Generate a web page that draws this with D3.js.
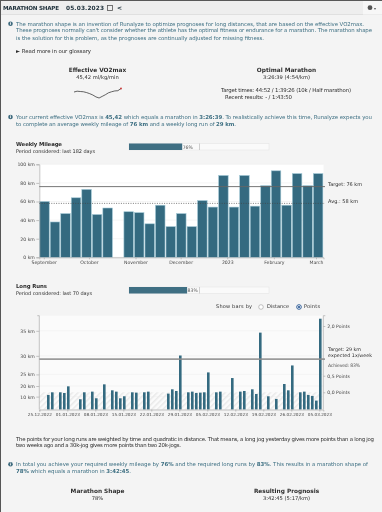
<!DOCTYPE html>
<html>
<head>
<meta charset="utf-8">
<title>Marathon Shape</title>
<script src="https://cdn.jsdelivr.net/npm/d3@7"></script>
<style>
	html, body { margin: 0; padding: 0; background: #f4f4f4; overflow: hidden; }
	svg { display: block; font-family: "DejaVu Sans", sans-serif; filter: blur(0.3px); }
	.axis text { fill: #444; font-size: 4.6px; font-family: "DejaVu Sans", sans-serif; }
	.axis path, .axis line { stroke: #aaa; stroke-width: 0.7; }
</style>
</head>
<body>
<svg id="page" width="382" height="512"></svg>
<script>
// Weekly mileage (km), one value per week, first week starts 29.08.2022
const weeklyKm = [60, 38, 47, 64, 73, 46, 53, 0, 49, 48, 36, 56, 33, 47, 33, 61, 54, 88, 54, 88, 55, 77, 93, 56, 90, 77, 90];
const weeklyTicks = [0, 20, 40, 60, 80, 100];
const monthLabels = ["September", "October", "November", "December", "2023", "February", "March"];
const monthStarts = ["2022-09-01", "2022-10-01", "2022-11-01", "2022-12-01", "2023-01-01", "2023-02-01", "2023-03-01"];
const weeklyTarget = 76;
const weeklyAvg = 58;

// Long runs: day after 25.12.2022 and the points of that run
const runDays = [2, 3, 5, 6, 7, 10, 11, 13, 14, 16, 18, 19, 20, 21, 23, 24, 26, 27, 32, 33, 34, 35, 37, 38, 39, 40, 41, 42, 44, 45, 48, 50, 51, 53, 54, 55, 57, 59, 61, 62, 63, 65, 66, 67, 68, 69, 70];
const runPoints = [-0.08, 0, 0, -0.02, 0.18, -0.21, 0, 0.02, -0.18, 0.24, 0.06, 0.02, -0.18, -0.12, 0, -0.01, 0, 0.02, -0.04, 0.09, 0.04, 1.11, 0, 0.02, -0.02, -0.01, 0, 0.6, 0, 0.02, 0.43, 0.02, 0.04, 0.09, -0.05, 1.8, -0.12, -0.2, 0.25, 0.06, 0.81, 0, 0.02, -0.08, -0.11, -0.25, 2.22];
const runDateLabels = ["25.12.2022", "01.01.2023", "08.01.2023", "15.01.2023", "22.01.2023", "29.01.2023", "05.02.2023", "12.02.2023", "19.02.2023", "26.02.2023", "05.03.2023"];
const kmTicks = [10, 20, 25, 30, 35];
const kmAsPoints = [-0.13, 0.19, 0.54, 1.1, 1.855];
const pointTicks = [0, 0.5, 2];
const runTargetPoints = 1;

// VO2max sparkline
const sparkVo2 = [44.86, 44.99, 44.94, 44.9, 44.77, 44.6, 44.38, 44.08, 43.9, 44.16, 44.42, 44.73, 44.9, 45.03, 45.07, 45.42];

const teal = "#3d6f82";
const dark = "#2e2e2e";
const barFill = "#346a80";
const barEdge = "#a3c9d6";

const svg = d3.select("#page");

/* ------------------------ HELPERS ----------------------- */

// runs = [[text, bold], ...], w = wanted width of the line
function line(x, y, runs, opts = {}){
	let t = svg.append("text")
		.attr("x", x)
		.attr("y", y + 1.9)
		.attr("fill", opts.color || dark)
		.attr("font-size", opts.size || 5.4)
		.attr("text-anchor", opts.anchor || "start");
	if(opts.w) t.attr("textLength", opts.w).attr("lengthAdjust", "spacing");
	if(typeof runs == "string") runs = [[runs, opts.bold]];
	runs.forEach(r => t.append("tspan")
		.attr("font-weight", r[1] ? "bold" : "normal")
		.text(r[0]));
	return t;
}

function infoIcon(x, y){
	svg.append("circle").attr("cx", x).attr("cy", y).attr("r", 2.3).attr("fill", "#3f6b7e");
	svg.append("rect").attr("x", x - 0.4).attr("y", y - 0.9).attr("width", 0.8).attr("height", 2).attr("fill", "#fff");
	svg.append("rect").attr("x", x - 0.4).attr("y", y - 1.7).attr("width", 0.8).attr("height", 0.6).attr("fill", "#fff");
}

function progress(y, h, pct, label){
	let w = d3.scaleLinear().domain([0, 100]).range([0, 70]);
	svg.append("rect").attr("x", 129).attr("y", y).attr("width", 140).attr("height", h)
		.attr("fill", "#fafafa").attr("stroke", "#e2e2e2").attr("stroke-width", 0.5);
	svg.append("rect").attr("x", 129).attr("y", y).attr("width", w(pct)).attr("height", h).attr("fill", "#3f6f83");
	line(129 + w(pct) + 0.5, y + h / 2, label, {size: 4.6, color: "#555"});
	svg.append("line").attr("x1", 199.5).attr("x2", 199.5).attr("y1", y).attr("y2", y + h)
		.attr("stroke", "#bbb").attr("stroke-width", 0.7);
}

/* ------------------------ HEADER ------------------------ */

svg.append("rect").attr("width", 382).attr("height", 14.5).attr("fill", "#eeeeee");
svg.append("rect").attr("y", 14).attr("width", 382).attr("height", 0.7).attr("fill", "#d8d8d8");
svg.append("rect").attr("width", 382).attr("height", 0.8).attr("fill", "#333");
svg.append("rect").attr("width", 1).attr("height", 512).attr("fill", "#555");
line(3, 8, "MARATHON SHAPE", {bold: true, w: 56, size: 5.6, color: "#22343e"});
line(66, 8, "05.03.2023", {bold: true, w: 38, size: 5.8, color: "#22343e"});
svg.append("rect").attr("x", 107.5).attr("y", 5.5).attr("width", 5).attr("height", 5)
	.attr("fill", "none").attr("stroke", "#555").attr("stroke-width", 0.8);
line(117, 8, "<", {bold: true, size: 6, color: "#22343e"});
svg.append("rect").attr("x", 363).attr("y", 1).attr("width", 19).attr("height", 13.5).attr("fill", "#f7f7f7");
svg.append("circle").attr("cx", 370).attr("cy", 7.7).attr("r", 2.4).attr("fill", "#555");
line(374, 8, "▾", {size: 4, color: "#555"});

/* ---------------------- INTRODUCTION -------------------- */

infoIcon(10.5, 23.7);
line(16, 23.7, "The marathon shape is an invention of Runalyze to optimize prognoses for long distances, that are based on the effective VO2max.", {color: teal, w: 348});
line(16, 30.5, "These prognoses normally can't consider whether the athlete has the optimal fitness or endurance for a marathon. The marathon shape", {color: teal, w: 356});
line(16, 37.7, "is the solution for this problem, as the prognoses are continually adjusted for missing fitness.", {color: teal, w: 248});
line(16, 51.2, "► Read more in our glossary", {w: 75});

line(97.5, 70.5, "Effective VO2max", {bold: true, anchor: "middle", size: 5.8});
line(97.5, 77.5, "45,42 ml/kg/min", {anchor: "middle", size: 5.2});
line(286.5, 70.5, "Optimal Marathon", {bold: true, anchor: "middle", size: 5.8});
line(286.5, 77.5, "3:26:39 (4:54/km)", {anchor: "middle", size: 5.2});
line(221, 90, "Target times: 44:52 / 1:39:26 (10k / Half marathon)", {w: 130});
line(225, 97, "Recent results: - / 1:43:50", {w: 67});

const sparkX = d3.scaleLinear().domain([0, sparkVo2.length - 1]).range([74, 121]);
const sparkY = d3.scaleLinear().domain([43.9, 45.42]).range([98, 88.5]);
svg.append("path")
	.attr("d", d3.line().x((d, i) => sparkX(i)).y(d => sparkY(d))(sparkVo2))
	.attr("fill", "none").attr("stroke", "#222").attr("stroke-width", 0.7);
svg.append("circle").attr("cx", sparkX(sparkVo2.length - 1)).attr("cy", sparkY(45.42)).attr("r", 0.9).attr("fill", "#c33");

infoIcon(10.5, 117);
line(16, 117, [["Your current effective VO2max is "], ["45,42", true], [" which equals a marathon in "], ["3:26:39", true], [". To realistically achieve this time, Runalyze expects you"]], {color: teal, w: 356});
line(16, 124, [["to complete an average weekly mileage of "], ["76 km", true], [" and a weekly long run of "], ["29 km", true], ["."]], {color: teal, w: 220});

/* --------------------- WEEKLY MILEAGE ------------------- */

line(16, 144, "Weekly Mileage", {bold: true, size: 5.4, w: 46});
line(16, 151, "Period considered: last 182 days", {size: 5, w: 79});
progress(143.5, 6.5, 76, "76%");

const weekStart = d3.timeMonday.floor(new Date(2022, 7, 29));
const weekDates = weeklyKm.map((d, i) => d3.timeMonday.offset(weekStart, i));
const wx = d3.scaleTime().domain([weekStart, d3.timeMonday.offset(weekStart, weeklyKm.length)]).range([39.3, 323.5]);
const wy = d3.scaleLinear().domain([0, 100]).range([257.3, 164.3]);

svg.append("rect").attr("x", wx.range()[0]).attr("y", wy(100)).attr("width", 284.2).attr("height", wy(0) - wy(100)).attr("fill", "#fff");
svg.append("g").selectAll("line").data(weeklyTicks).enter().append("line")
	.attr("x1", wx.range()[0]).attr("x2", wx.range()[1])
	.attr("y1", d => wy(d)).attr("y2", d => wy(d))
	.attr("stroke", "#f1f1f1").attr("stroke-width", 0.7);

svg.selectAll(".wbar").data(weeklyKm).enter().append("rect")
	.attr("class", "wbar")
	.attr("x", (d, i) => wx(weekDates[i]) + 0.4)
	.attr("y", d => wy(d))
	.attr("width", (d, i) => wx(d3.timeMonday.offset(weekDates[i], 1)) - wx(weekDates[i]) - 1)
	.attr("height", d => wy(0) - wy(d))
	.attr("fill", barFill)
	.attr("stroke", barEdge)
	.attr("stroke-width", 0.6);

const monthDates = monthStarts.map(s => new Date(s + "T00:00:00"));
svg.append("g").attr("class", "axis").attr("transform", "translate(39.3,0)")
	.call(d3.axisLeft(wy).tickValues(weeklyTicks).tickFormat(d => d + " km").tickSize(3).tickPadding(1.5));
svg.append("g").attr("class", "axis").attr("transform", "translate(0,257.3)")
	.call(d3.axisBottom(wx).tickValues(monthDates).tickFormat((d, i) => monthLabels[i]).tickSize(2).tickPadding(1.5));

svg.append("line").attr("x1", 39.3).attr("x2", 325)
	.attr("y1", wy(weeklyTarget)).attr("y2", wy(weeklyTarget))
	.attr("stroke", "#666").attr("stroke-width", 0.9);
svg.append("line").attr("x1", 39.3).attr("x2", 325)
	.attr("y1", wy(weeklyAvg)).attr("y2", wy(weeklyAvg))
	.attr("stroke", "#444").attr("stroke-width", 0.7).attr("stroke-dasharray", "1,1.4");
line(328, 184.5, "Target: " + weeklyTarget + " km", {size: 5, w: 34});
line(328, 201.5, "Avg.: " + weeklyAvg + " km", {size: 5, w: 30});

/* ----------------------- LONG RUNS ---------------------- */

line(16, 286.5, "Long Runs", {bold: true, size: 5.4, w: 31});
line(16, 293.5, "Period considered: last 70 days", {size: 5, w: 76});
progress(287, 6.5, 83, "83%");

line(216, 306.5, "Show bars by", {size: 5, w: 36});
svg.append("circle").attr("cx", 261).attr("cy", 307).attr("r", 2.3).attr("fill", "#fff").attr("stroke", "#888").attr("stroke-width", 0.5);
line(267, 306.5, "Distance", {size: 5, w: 22});
svg.append("circle").attr("cx", 299).attr("cy", 307).attr("r", 2.3).attr("fill", "#fff").attr("stroke", "#1d4f8f").attr("stroke-width", 0.9);
svg.append("circle").attr("cx", 299).attr("cy", 307).attr("r", 1.1).attr("fill", "#1d4f8f");
line(304, 306.5, "Points", {size: 5, w: 16});

const runStart = new Date(2022, 11, 25);
const dayDate = n => d3.timeDay.offset(runStart, n);
const rx = d3.scaleTime().domain([runStart, dayDate(71)]).range([39.3, 323.3]);
const ry = d3.scaleLinear().domain([0, 2]).range([392.3, 326]);
const yBottom = 409.5;
const yTop = 315.7;
const kmScale = d3.scaleLinear().domain(kmTicks).range(kmAsPoints.map(p => ry(p)));

svg.append("rect").attr("x", 39.3).attr("y", yTop).attr("width", 284).attr("height", yBottom - yTop).attr("fill", "#fbfbfb");
svg.append("g").selectAll("line").data(kmTicks).enter().append("line")
	.attr("x1", 39.3).attr("x2", 323.3)
	.attr("y1", d => kmScale(d)).attr("y2", d => kmScale(d))
	.attr("stroke", "#f0f0f0").attr("stroke-width", 0.7);

const hatch = svg.append("defs").append("pattern")
	.attr("id", "hatch").attr("width", 4).attr("height", 4)
	.attr("patternUnits", "userSpaceOnUse").attr("patternTransform", "rotate(45)");
hatch.append("rect").attr("width", 1.5).attr("height", 4).attr("fill", "#e9e9e9");
svg.append("rect").attr("x", 39.3).attr("y", ry(0)).attr("width", 281).attr("height", yBottom - ry(0)).attr("fill", "url(#hatch)");

svg.selectAll(".rbar").data(runPoints).enter().append("rect")
	.attr("class", "rbar")
	.attr("x", (d, i) => rx(dayDate(runDays[i])) - 0.3)
	.attr("y", d => ry(d))
	.attr("width", 2.6)
	.attr("height", d => yBottom - ry(d))
	.attr("fill", barFill);

const dateParse = d3.timeParse("%d.%m.%Y");
svg.append("g").attr("class", "axis").attr("transform", "translate(39.3,0)")
	.call(d3.axisLeft(kmScale).tickValues(kmTicks).tickFormat(d => d + " km").tickSize(3).tickPadding(1.5))
	.call(g => g.select(".domain").attr("d", "M-2," + yTop + "H0V" + yBottom));
svg.append("g").attr("class", "axis").attr("transform", "translate(323.3,0)")
	.call(d3.axisRight(ry).tickValues(pointTicks).tickFormat(d => d3.format(".1f")(d).replace(".", ",") + " Points").tickSize(2).tickPadding(2))
	.call(g => g.select(".domain").attr("d", "M2," + yTop + "H0V" + yBottom));
svg.append("g").attr("class", "axis").attr("transform", "translate(0," + yBottom + ")")
	.call(d3.axisBottom(rx).tickValues(runDateLabels.map(dateParse)).tickFormat(d3.timeFormat("%d.%m.%Y")).tickSize(2).tickPadding(1.5))
	.call(g => g.selectAll("text").style("font-size", "4.2px"));

svg.append("line").attr("x1", 39.3).attr("x2", 325)
	.attr("y1", ry(runTargetPoints)).attr("y2", ry(runTargetPoints))
	.attr("stroke", "#8a8a8a").attr("stroke-width", 1.6).attr("stroke-opacity", 0.85);
line(328, 349, "Target: 29 km", {size: 4.8, w: 33});
line(328, 355, "expected 1x/week", {size: 4.8, w: 44});
line(328, 365, "Achieved: 83%", {size: 4.6, w: 32, color: "#555"});

/* ----------------------- CONCLUSION --------------------- */

line(16, 438.7, "The points for your long runs are weighted by time and quadratic in distance. That means, a long jog yesterday gives more points than a long jog", {w: 358});
line(16, 445.3, "two weeks ago and a 30k-jog gives more points than two 20k-jogs.", {w: 165});

infoIcon(10.5, 464.3);
line(16, 464.3, [["In total you achieve your required weekly mileage by "], ["76%", true], [" and the required long runs by "], ["83%", true], [". This results in a marathon shape of"]], {color: teal, w: 352});
line(16, 471, [["78%", true], [" which equals a marathon in "], ["3:42:45", true], ["."]], {color: teal, w: 115});

line(97.5, 490.7, "Marathon Shape", {bold: true, anchor: "middle", size: 5.8});
line(97.5, 497.7, "78%", {anchor: "middle", size: 5.2});
line(286.5, 490.7, "Resulting Prognosis", {bold: true, anchor: "middle", size: 5.8});
line(286.5, 497.7, "3:42:45 (5:17/km)", {anchor: "middle", size: 5.2});
</script>
</body>
</html>
